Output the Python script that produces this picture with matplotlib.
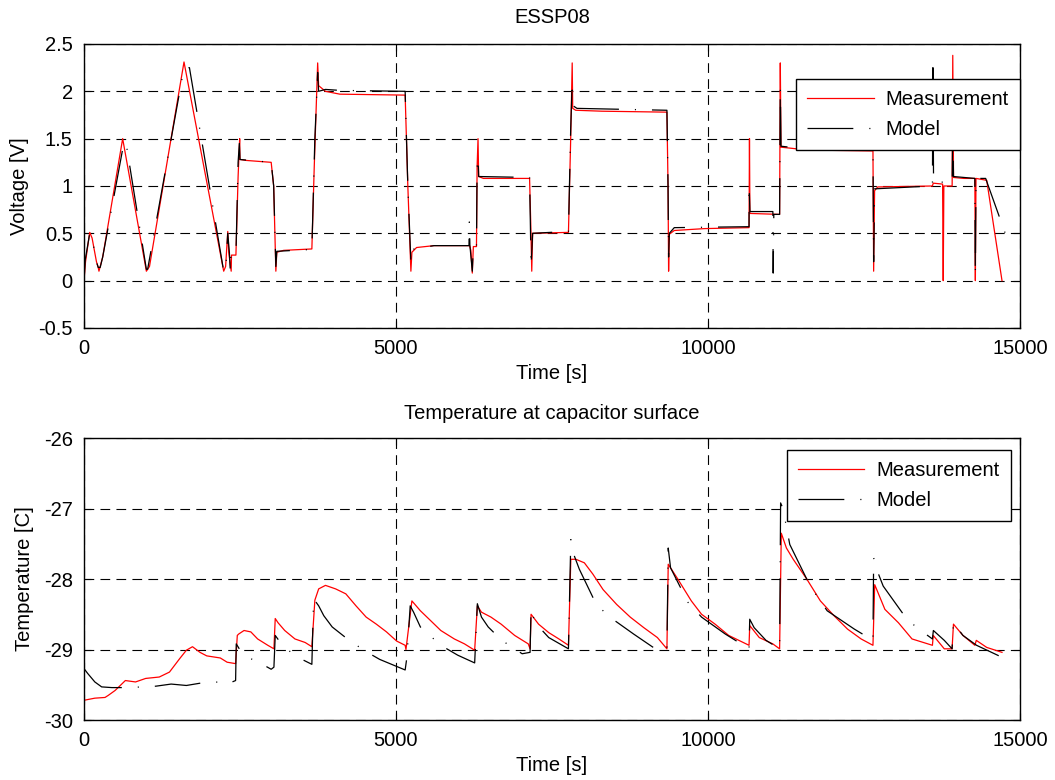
import matplotlib
matplotlib.use("Agg")
import matplotlib.pyplot as plt

plt.rcParams['font.family'] = ['Liberation Sans', 'DejaVu Sans']
plt.rcParams['font.size'] = 14.5
plt.rcParams['axes.unicode_minus'] = False
plt.rcParams['lines.scale_dashes'] = False

# voltage, measurement (t [s], V)
volt_meas_t = [0, 25, 92, 130, 200, 228, 240, 260, 300, 620, 1000, 1050, 1603, 2239, 2270,
               2304, 2320, 2359, 2364, 2435, 2470, 2495, 2500, 2600, 3000, 3040, 3075, 3090,
               3200, 3652, 3690, 3745, 3760, 3870, 4100, 5147, 5190, 5239, 5255, 5330, 5609,
               6180, 6200, 6223, 6240, 6290, 6300, 6315, 6325, 6400, 7141, 7160, 7176, 7190,
               7764, 7800, 7824, 7832, 7880, 8300, 9342, 9360, 9369, 9380, 9460, 9950, 10658,
               10665, 10672, 11148, 11159, 11170, 11600, 12644, 12655, 12670, 12720, 13597,
               13610, 13760, 13770, 13780, 13913, 13923, 13935, 14100, 14277, 14285, 14295,
               14467, 14712]
volt_meas_v = [0, 0.2, 0.51, 0.45, 0.2, 0.14, 0.1, 0.15, 0.25, 1.5, 0.1, 0.15, 2.31, 0.1, 0.15,
               0.52, 0.3, 0.1, 0.27, 0.27, 1.1, 1.5, 1.28, 1.27, 1.25, 1.0, 0.1, 0.3,
               0.32, 0.335, 1.2, 2.3, 2.06, 2.0, 1.97, 1.96, 1.0, 0.1, 0.3, 0.35, 0.37,
               0.37, 0.32, 0.08, 0.36, 0.36, 1.2, 1.5, 1.1, 1.08, 1.08, 0.6, 0.1, 0.5,
               0.51, 1.5, 2.3, 1.82, 1.80, 1.79, 1.78, 1.0, 0.1, 0.49, 0.53, 0.55, 0.56,
               1.5, 0.71, 0.70, 2.3, 1.41, 1.38, 1.37, 0.1, 0.95, 0.99, 1.0,
               1.03, 1.02, 0.0, 1.0, 1.0, 2.38, 1.09, 1.08, 1.08, 0.0, 1.08,
               1.06, 0.0]

# voltage, model
volt_mod_t = [0, 20, 92, 130, 200, 228, 260, 300, 640, 680, 1000, 1020, 1603, 1690, 2239, 2270,
              2304, 2330, 2345, 2355, 2435, 2470, 2490, 2500, 3000, 3040, 3075, 3090, 3652,
              3700, 3745, 3760, 3870, 4100, 5147, 5190, 5239, 5255, 5609, 6170, 6175, 6185,
              6223, 6240, 6290, 6300, 6315, 6325, 7141, 7165, 7190, 7764, 7800, 7824, 7832,
              7900, 9342, 9360, 9369, 9380, 9460, 10658, 10660, 10672, 11040, 11045, 11055,
              11148, 11159, 11170, 11600, 12644, 12655, 12670, 13597, 13605, 13615, 13913,
              13923, 13935, 14277, 14285, 14295, 14450, 14764]
volt_mod_v = [0, 0.22, 0.5, 0.45, 0.2, 0.14, 0.14, 0.25, 1.46, 1.43, 0.12, 0.12, 2.25, 2.25, 0.1, 0.1,
              0.5, 0.3, 0.1, 0.27, 0.27, 1.25, 1.45, 1.28, 1.25, 1.0, 0.15, 0.31, 0.33,
              1.5, 2.2, 2.0, 2.02, 2.01, 2.0, 1.0, 0.2, 0.33, 0.37, 0.37, 0.62, 0.37,
              0.1, 0.36, 0.36, 1.2, 1.3, 1.1, 1.09, 0.15, 0.5, 0.52, 1.6, 2.1, 1.85,
              1.82, 1.80, 1.0, 0.25, 0.5, 0.56, 0.57, 1.0, 0.73, 0.73, 0.08, 0.7,
              0.7, 2.05, 1.42, 1.39, 1.38, 0.2, 0.97, 1.0, 2.25, 1.05, 1.03,
              1.6, 1.1, 1.08, 0.05, 1.08, 1.08, 0.5]

# temperature, measurement (t [s], degC)
temp_meas_t = [0, 174, 337, 390, 500, 663, 826, 989, 1207, 1370, 1533, 1641, 1739, 1859, 1967,
               2185, 2294, 2430, 2457, 2480, 2565, 2674, 2783, 2946, 3044, 3065, 3110, 3217,
               3381, 3544, 3652, 3700, 3761, 3870, 4033, 4196, 4359, 4522, 4685, 4848, 5011,
               5147, 5160, 5255, 5391, 5555, 5718, 5935, 6098, 6261, 6304, 6370, 6522, 6685,
               6902, 7120, 7149, 7165, 7285, 7448, 7611, 7764, 7802, 7884, 8019, 8155, 8319,
               8536, 8754, 8972, 9189, 9342, 9363, 9516, 9733, 9897, 10114, 10332, 10658,
               10669, 10822, 11039, 11148, 11175, 11257, 11366, 11583, 11801, 12019, 12236,
               12454, 12644, 12672, 12835, 13052, 13270, 13597, 13610, 13787, 13912, 13934,
               14086, 14277, 14300, 14467, 14712]
temp_meas_v = [-29.72, -29.69, -29.68, -29.65, -29.58, -29.44, -29.46, -29.41, -29.39, -29.32,
               -29.13, -29.01, -28.96, -29.04, -29.09, -29.12, -29.18, -29.20, -28.80, -28.78,
               -28.73, -28.75, -28.85, -28.94, -28.99, -28.56, -28.62, -28.73, -28.85, -28.90,
               -28.96, -28.30, -28.14, -28.09, -28.14, -28.21, -28.38, -28.54, -28.64, -28.75,
               -28.88, -28.94, -29.00, -28.31, -28.45, -28.59, -28.73, -28.85, -28.92, -29.01,
               -28.38, -28.47, -28.54, -28.64, -28.80, -28.92, -28.99, -28.50, -28.64, -28.76,
               -28.85, -28.94, -27.72, -27.72, -27.77, -27.93, -28.15, -28.36, -28.54, -28.69,
               -28.83, -28.99, -27.79, -28.00, -28.31, -28.50, -28.64, -28.80, -28.94, -28.66,
               -28.83, -28.92, -28.99, -27.35, -27.56, -27.72, -28.00, -28.31, -28.52, -28.71,
               -28.85, -28.94, -28.08, -28.43, -28.62, -28.85, -28.94, -28.80, -28.99, -28.99,
               -28.64, -28.80, -28.94, -28.87, -28.97, -29.04]

# temperature, model
temp_mod_t = [0, 60, 174, 283, 446, 717, 935, 1152, 1397, 1641, 1913, 2185, 2294, 2430, 2440,
              2475, 2530, 2674, 2840, 3000, 3044, 3065, 3163, 3381, 3652, 3680, 3761, 3843,
              3978, 4250, 4522, 4739, 5147, 5175, 5228, 5282, 5391, 5718, 5989, 6261, 6304,
              6370, 6478, 6696, 7022, 7149, 7165, 7230, 7448, 7764, 7802, 7840, 7938, 8210,
              8427, 8808, 9189, 9342, 9363, 9400, 9679, 9897, 10277, 10658, 10669, 10740,
              10930, 11148, 11164, 11202, 11311, 11638, 11910, 12345, 12644, 12655, 12715,
              12808, 13188, 13379, 13597, 13612, 13787, 13912, 13934, 14086, 14304, 14712]
temp_mod_v = [-29.27, -29.34, -29.46, -29.53, -29.54, -29.54, -29.53, -29.52, -29.49, -29.51,
              -29.47, -29.46, -29.49, -29.44, -28.92, -28.97, -29.05, -29.13, -29.20, -29.28,
              -29.25, -28.80, -28.92, -29.09, -29.21, -28.28, -28.38, -28.52, -28.68, -28.87,
              -29.03, -29.14, -29.29, -29.11, -28.38, -28.47, -28.68, -28.94, -29.08, -29.19,
              -28.35, -28.54, -28.68, -28.87, -29.06, -29.04, -28.43, -28.62, -28.83, -28.99,
              -27.44, -27.63, -27.86, -28.36, -28.54, -28.78, -29.01, -28.99, -27.56, -27.84,
              -28.33, -28.54, -28.78, -28.99, -28.57, -28.69, -28.87, -28.99, -26.92, -27.00,
              -27.51, -28.10, -28.45, -28.71, -28.87, -27.70, -27.89, -28.10, -28.57, -28.71,
              -28.85, -28.73, -28.87, -28.99, -28.62, -28.80, -28.94, -29.11]

x_ticks = [0, 5000, 10000, 15000]
x_tick_labels = ['0', '5000', '10000', '15000']
volt_ticks = [-0.5, 0, 0.5, 1, 1.5, 2, 2.5]
volt_tick_labels = ['-0.5', '0', '0.5', '1', '1.5', '2', '2.5']
temp_ticks = [-30, -29, -28, -27, -26]
temp_tick_labels = ['-30', '-29', '-28', '-27', '-26']

model_style = (0, (33, 11.5, 0.8, 11.5))
grid_style = (0, (7, 4.5))

fig = plt.figure(figsize=(10.55, 7.8), dpi=100)
ax1 = fig.add_axes([0.0796, 0.5795, 0.8872, 0.3641])
ax2 = fig.add_axes([0.0796, 0.0769, 0.8872, 0.3615])


def style_axes(ax, yticks, ylabels, ylim):
    ax.set_xlim(0, 15000)
    ax.set_ylim(*ylim)
    ax.set_xticks(x_ticks)
    ax.set_xticklabels(x_tick_labels)
    ax.set_yticks(yticks)
    ax.set_yticklabels(ylabels)
    ax.tick_params(direction='in', top=True, right=True, length=5, width=0.8, pad=8)
    ax.grid(True, color='black', linestyle=grid_style, linewidth=0.8)
    for s in ax.spines.values():
        s.set_linewidth(1.0)
    ax.set_xlabel('Time [s]', labelpad=4)


def add_legend(ax, anchor):
    leg = ax.legend(loc='upper right', bbox_to_anchor=anchor, borderaxespad=0,
                    fancybox=False, edgecolor='black', framealpha=1, handlelength=3.3,
                    handletextpad=0.6, borderpad=0.55, labelspacing=0.55)
    leg.get_frame().set_linewidth(1.0)


ax1.plot(volt_meas_t, volt_meas_v, color='red', linewidth=0.9, label='Measurement')
ax1.plot(volt_mod_t, volt_mod_v, color='black', linewidth=0.9, linestyle=model_style, label='Model')
style_axes(ax1, volt_ticks, volt_tick_labels, (-0.5, 2.5))
ax1.set_ylabel('Voltage [V]', labelpad=7)
ax1.set_title('ESSP08', pad=15, fontsize=14.5)
add_legend(ax1, (1.0, 0.877))

ax2.plot(temp_meas_t, temp_meas_v, color='red', linewidth=0.9, label='Measurement')
ax2.plot(temp_mod_t, temp_mod_v, color='black', linewidth=0.9, linestyle=model_style, label='Model')
style_axes(ax2, temp_ticks, temp_tick_labels, (-30, -26))
ax2.set_ylabel('Temperature [C]', labelpad=7)
ax2.set_title('Temperature at capacitor surface', pad=14, fontsize=14.5)
add_legend(ax2, (0.990, 0.957))

fig.savefig('out.png', dpi=100)
